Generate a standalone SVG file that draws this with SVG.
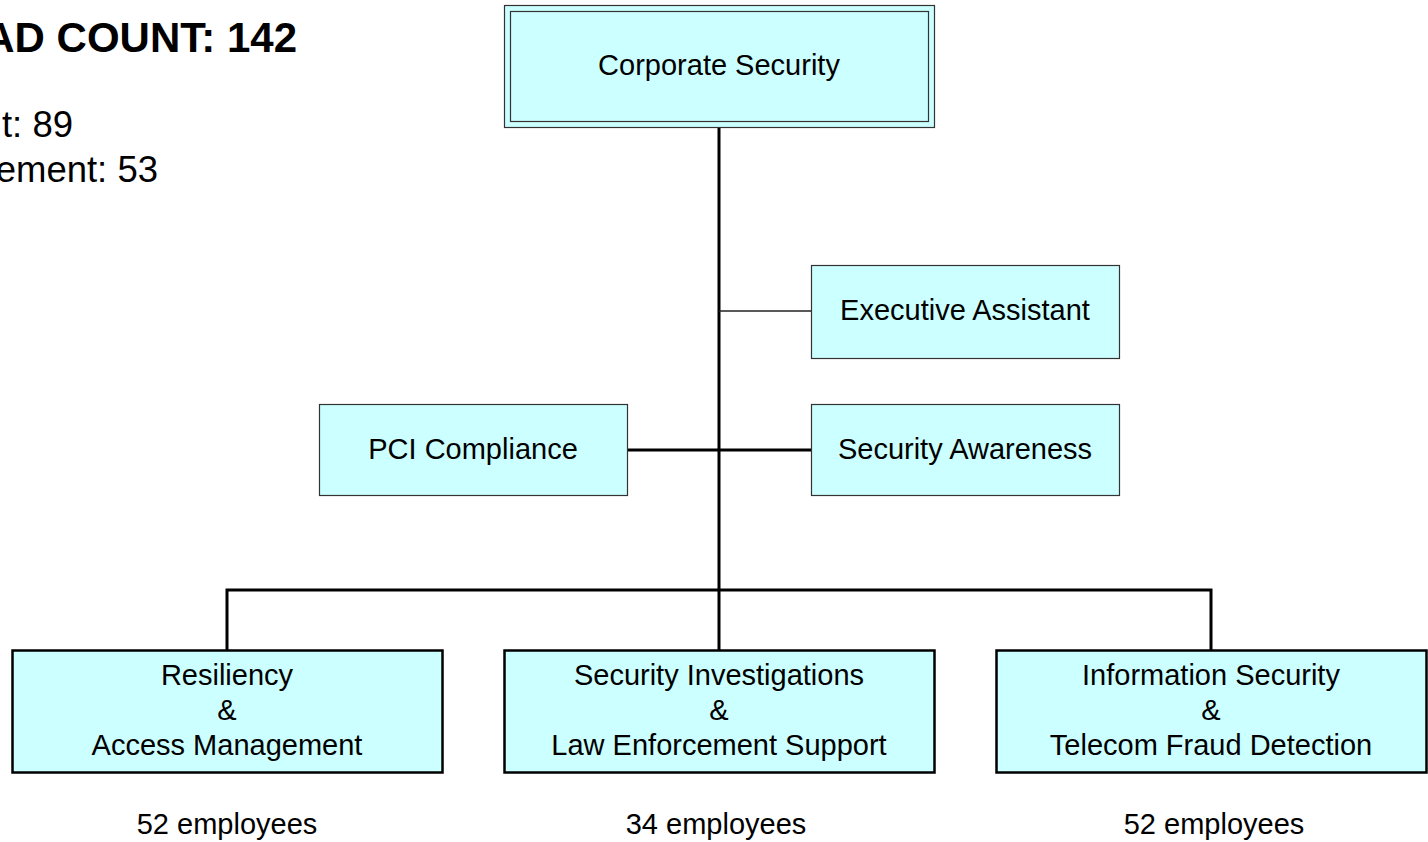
<svg xmlns="http://www.w3.org/2000/svg" width="1428" height="842" viewBox="0 0 1428 842">
<style>
text{font-family:"Liberation Sans",Arial,sans-serif;fill:#000}
.lbl{font-size:29px;text-anchor:middle}
.box{fill:#CCFFFF;stroke:#333;stroke-width:1.2}
.big{fill:#CCFFFF;stroke:#000;stroke-width:2.5}
.thick{stroke:#000;stroke-width:3;fill:none}
.thin{stroke:#222;stroke-width:1.3;fill:none}
.info{font-size:36.5px}
</style>
<rect width="1428" height="842" fill="#fff"/>
<g id="headcount">
<text x="297" y="52" font-size="42" font-weight="bold" text-anchor="end">AD COUNT: 142</text>
<text class="info" x="73" y="137" text-anchor="end">t: 89</text>
<text class="info" x="158" y="182" text-anchor="end">ement: 53</text>
</g>
<g id="connectors">
<line class="thick" x1="719" y1="127" x2="719" y2="650"/>
<line class="thin" x1="719" y1="311" x2="811" y2="311"/>
<line class="thick" x1="627" y1="450" x2="811" y2="450"/>
<polyline class="thick" points="227,650 227,590 1211,590 1211,650"/>
</g>
<g id="corporate-security">
<rect class="box" x="504.5" y="5.5" width="430" height="122"/>
<rect class="box" x="510.5" y="11.5" width="418" height="110"/>
<text class="lbl" x="719" y="75">Corporate Security</text>
</g>
<g id="executive-assistant">
<rect class="box" x="811.5" y="265.5" width="308" height="93"/>
<text class="lbl" x="965" y="320">Executive Assistant</text>
</g>
<g id="pci-compliance">
<rect class="box" x="319.5" y="404.5" width="308" height="91"/>
<text class="lbl" x="473" y="459">PCI Compliance</text>
</g>
<g id="security-awareness">
<rect class="box" x="811.5" y="404.5" width="308" height="91"/>
<text class="lbl" x="965" y="459">Security Awareness</text>
</g>
<g id="resiliency">
<rect class="big" x="12.5" y="650.5" width="430" height="122"/>
<text class="lbl" x="227" y="685">Resiliency</text>
<text class="lbl" x="227" y="720">&amp;</text>
<text class="lbl" x="227" y="755">Access Management</text>
<text class="lbl" x="227" y="834">52 employees</text>
</g>
<g id="security-investigations">
<rect class="big" x="504.5" y="650.5" width="430" height="122"/>
<text class="lbl" x="719" y="685">Security Investigations</text>
<text class="lbl" x="719" y="720">&amp;</text>
<text class="lbl" x="719" y="755">Law Enforcement Support</text>
<text class="lbl" x="716" y="834">34 employees</text>
</g>
<g id="information-security">
<rect class="big" x="996.5" y="650.5" width="430" height="122"/>
<text class="lbl" x="1211" y="685">Information Security</text>
<text class="lbl" x="1211" y="720">&amp;</text>
<text class="lbl" x="1211" y="755">Telecom Fraud Detection</text>
<text class="lbl" x="1214" y="834">52 employees</text>
</g>
</svg>
